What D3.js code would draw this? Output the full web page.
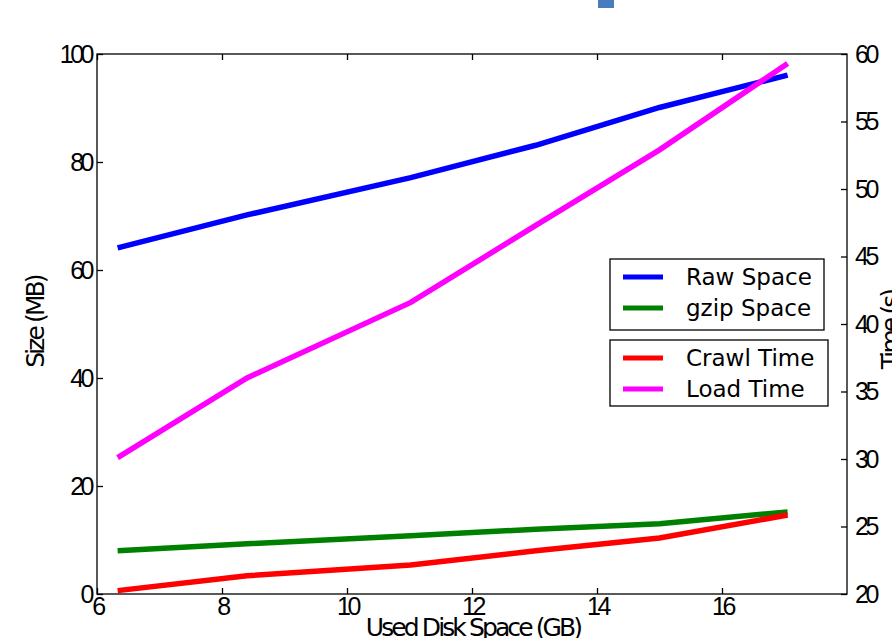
<!DOCTYPE html>
<html lang="en">
<head>
    <meta charset="UTF-8">
    <title>Size and Time vs Used Disk Space</title>
    <script src="https://d3js.org/d3.v7.min.js"></script>
    <style>
        body { margin: 0; background: #fff; }
        svg { display: block; font-family: "DejaVu Sans", sans-serif; }
        .tick text { font-size: 25px; letter-spacing: -3.5px; fill: #000; }
        .axis path, .tick line { stroke: #000; stroke-width: 1.3; }
        .label { font-size: 25px; letter-spacing: -2.9px; fill: #000; }
        .legend text { font-size: 23px; fill: #000; }
    </style>
</head>
<body>
<svg id="chart" width="892" height="638"></svg>
<script>
    // Data
    const diskGB = [6.33, 8.4, 11.02, 13.02, 15, 17.05];
    const rawSpace = [64.1, 70.2, 77.1, 83.1, 90.1, 96.1];
    const gzipSpace = [8.0, 9.3, 10.8, 12.0, 13.0, 15.2];
    const crawlTime = [20.25, 21.35, 22.15, 23.2, 24.15, 25.85];
    const loadTime = [30.1, 36.0, 41.6, 47.3, 52.9, 59.3];

    const xTicks = [6, 8, 10, 12, 14, 16];
    const leftTicks = [0, 20, 40, 60, 80, 100];
    const rightTicks = [20, 25, 30, 35, 40, 45, 50, 55, 60];

    const svg = d3.select('#chart');
    const plotL = 97, plotR = 847, plotT = 54, plotB = 594;

    const x = d3.scaleLinear().domain([6, 18]).range([plotL, plotR]);
    const yL = d3.scaleLinear().domain([0, 100]).range([plotB, plotT]);
    const yR = d3.scaleLinear().domain([20, 60]).range([plotB, plotT]);

    // stray blue mark at the top edge
    svg.append('rect').attr('x', 598).attr('y', 0).attr('width', 16).attr('height', 8).attr('fill', '#4a7bbf');

    const series = [
        { name: 'Raw Space', values: rawSpace, y: yL, color: '#0000ff' },
        { name: 'gzip Space', values: gzipSpace, y: yL, color: '#008000' },
        { name: 'Crawl Time', values: crawlTime, y: yR, color: '#ff0000' },
        { name: 'Load Time', values: loadTime, y: yR, color: '#ff00ff' }
    ];

    series.forEach(s => {
        const line = d3.line().x((d, i) => x(diskGB[i])).y(d => s.y(d));
        svg.append('path')
            .datum(s.values)
            .attr('fill', 'none')
            .attr('stroke', s.color)
            .attr('stroke-width', 5.5)
            .attr('d', line);
    });

    // frame
    svg.append('rect')
        .attr('x', plotL).attr('y', plotT)
        .attr('width', plotR - plotL).attr('height', plotB - plotT)
        .attr('fill', 'none').attr('stroke', '#000').attr('stroke-width', 1.3);

    svg.append('g').attr('class', 'axis')
        .attr('transform', `translate(0,${plotB})`)
        .call(d3.axisBottom(x).tickValues(xTicks).tickSize(-6).tickPadding(3).tickSizeOuter(0));

    svg.append('g').attr('class', 'axis')
        .attr('transform', `translate(0,${plotT})`)
        .call(d3.axisTop(x).tickValues(xTicks).tickSize(-6).tickSizeOuter(0).tickFormat(''));

    svg.append('g').attr('class', 'axis')
        .attr('transform', `translate(${plotL},0)`)
        .call(d3.axisLeft(yL).tickValues(leftTicks).tickSize(-6).tickPadding(6).tickSizeOuter(0));

    svg.append('g').attr('class', 'axis')
        .attr('transform', `translate(${plotR},0)`)
        .call(d3.axisRight(yR).tickValues(rightTicks).tickSize(-6).tickPadding(8).tickSizeOuter(0));

    svg.selectAll('.axis .domain').remove();

    // axis labels
    svg.append('text').attr('class', 'label')
        .attr('x', 473).attr('y', 636)
        .attr('text-anchor', 'middle')
        .text('Used Disk Space (GB)');

    svg.append('text').attr('class', 'label')
        .attr('transform', 'translate(44,322) rotate(-90)')
        .attr('text-anchor', 'middle')
        .text('Size (MB)');

    svg.append('text').attr('class', 'label')
        .attr('transform', 'translate(899,330) rotate(-90)')
        .attr('text-anchor', 'middle')
        .text('Time (s)');

    // legends
    const legends = [
        { x: 610, y: 259, w: 214, h: 71, items: series.slice(0, 2) },
        { x: 610, y: 340, w: 218, h: 66, items: series.slice(2) }
    ];
    legends.forEach(lg => {
        const g = svg.append('g').attr('class', 'legend');
        g.append('rect')
            .attr('x', lg.x).attr('y', lg.y).attr('width', lg.w).attr('height', lg.h)
            .attr('fill', '#fff').attr('stroke', '#000').attr('stroke-width', 1.3);
        lg.items.forEach((s, i) => {
            const cy = lg.y + 18 + i * 31;
            g.append('line')
                .attr('x1', lg.x + 13).attr('x2', lg.x + 53)
                .attr('y1', cy).attr('y2', cy)
                .attr('stroke', s.color).attr('stroke-width', 5);
            g.append('text')
                .attr('x', lg.x + 76).attr('y', cy)
                .attr('dy', '0.35em')
                .text(s.name);
        });
    });
</script>
</body>
</html>
